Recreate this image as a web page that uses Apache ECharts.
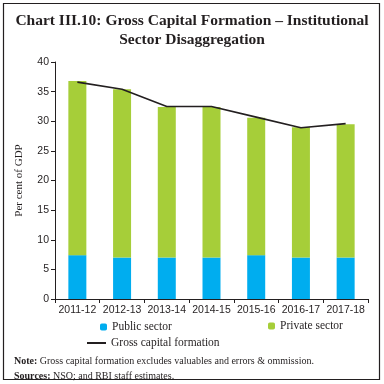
<!DOCTYPE html>
<html><head><meta charset="utf-8">
<script src="https://cdn.jsdelivr.net/npm/echarts@6/dist/echarts.min.js"></script>
<style>html,body{margin:0;padding:0;background:#fff}#c{width:384px;height:384px}</style>
</head><body><div id="c"></div>
<script>
const categories = ['2011-12','2012-13','2013-14','2014-15','2015-16','2016-17','2017-18'];
const publicSector = [7.4, 7.0, 7.0, 7.0, 7.4, 7.0, 7.0];
const privateSector = [29.4, 28.4, 25.4, 25.4, 23.2, 22.0, 22.5];
const grossCapitalFormation = [36.6, 35.4, 32.5, 32.5, 30.7, 28.9, 29.6];
const yTicks = [0, 5, 10, 15, 20, 25, 30, 35, 40];

const chart = echarts.init(document.getElementById('c'), null, {renderer: 'canvas'});
const serif = 'Liberation Serif';
const sans = 'Liberation Sans';
const legText = {fontFamily: serif, fontSize: 11.5, color: '#231f20'};
chart.setOption({
  animation: false,
  title: {
    text: 'Chart III.10: Gross Capital Formation – Institutional\nSector Disaggregation',
    left: 'center', top: 6,
    textStyle: {fontFamily: serif, fontWeight: 'bold', fontSize: 15.5, lineHeight: 19, color: '#231f20'}
  },
  grid: {left: 55, right: 16, top: 62, bottom: 85},
  legend: [
    {data: [{name: 'Public sector'}], left: 100, top: 321, padding: 0, itemWidth: 7, itemHeight: 7, itemGap: 4,
     textStyle: legText},
    {data: [{name: 'Private sector'}], left: 268, top: 320, padding: 0, itemWidth: 7, itemHeight: 7, itemGap: 4,
     textStyle: legText},
    {data: [{name: 'Gross capital formation', icon: 'rect'}], left: 87, top: 337, padding: 0, itemWidth: 19, itemHeight: 2, itemGap: 2,
     textStyle: legText}
  ],
  xAxis: {
    type: 'category', data: categories, boundaryGap: true,
    axisLine: {lineStyle: {color: '#231f20', width: 1}},
    axisTick: {show: true, alignWithLabel: false, length: 4, lineStyle: {color: '#231f20'}},
    axisLabel: {fontFamily: sans, fontSize: 10.5, color: '#231f20', margin: 6, interval: 0}
  },
  yAxis: {
    type: 'value', min: 0, max: 40, interval: 5,
    name: 'Per cent of GDP', nameLocation: 'middle', nameGap: 30, nameRotate: 90,
    nameTextStyle: {fontFamily: serif, fontSize: 11, color: '#231f20'},
    axisLine: {show: true, lineStyle: {color: '#231f20', width: 1}},
    axisTick: {show: true, length: 4, lineStyle: {color: '#231f20'}},
    axisLabel: {fontFamily: sans, fontSize: 10.5, color: '#231f20', margin: 6,
      formatter: v => yTicks.includes(v) ? String(v) : ''},
    splitLine: {show: false}
  },
  series: [
    {name: 'Public sector', type: 'bar', stack: 'g', data: publicSector, barWidth: 18,
     itemStyle: {color: '#00adef'}},
    {name: 'Private sector', type: 'bar', stack: 'g', data: privateSector, barWidth: 18,
     itemStyle: {color: '#a6ce39'}},
    {name: 'Gross capital formation', type: 'line', data: grossCapitalFormation,
     symbol: 'none', lineStyle: {color: '#231f20', width: 1.6}, itemStyle: {color: '#231f20'}, z: 5}
  ],
  graphic: [
    {type: 'rect', shape: {x: 3.5, y: 3.5, width: 376, height: 376},
     style: {fill: 'none', stroke: '#231f20', lineWidth: 1.2}, silent: true},
    {type: 'text', left: 14, top: 356,
     style: {rich: {b: {fontFamily: serif, fontWeight: 'bold', fontSize: 10, fill: '#231f20'},
                    n: {fontFamily: serif, fontSize: 10, fill: '#231f20'}},
             text: '{b|Note:}{n| Gross capital formation excludes valuables and errors & ommission.}'}},
    {type: 'text', left: 14, top: 371,
     style: {rich: {b: {fontFamily: serif, fontWeight: 'bold', fontSize: 10, fill: '#231f20'},
                    n: {fontFamily: serif, fontSize: 10, fill: '#231f20'}},
             text: '{b|Sources:}{n| NSO; and RBI staff estimates.}'}}
  ]
});
</script></body></html>
